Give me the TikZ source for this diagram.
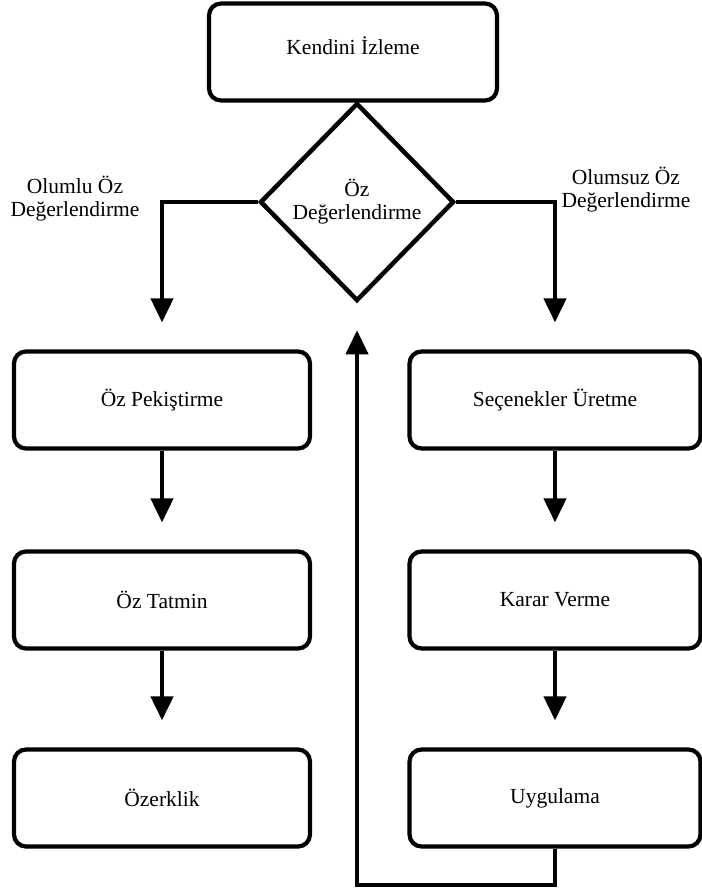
\documentclass[tikz,border=0pt]{standalone}
\usepackage{fontspec}
\setmainfont{Liberation Serif}
\usetikzlibrary{shapes.geometric,arrows.meta}
\begin{document}
\begin{tikzpicture}[x=1pt, y=-1pt,
    txt/.style={font=\fontsize{21.5}{23}\selectfont},
    box/.style={txt, draw, line width=4.2pt, rounded corners=12pt,
      minimum height=97pt},
    decision/.style={txt, draw, diamond, line width=4.5pt, align=center,
      minimum width=194pt, minimum height=198pt, inner sep=0pt},
    flow/.style={line width=4.2pt, -{Triangle[length=24pt,width=22pt]},
      shorten >=27pt},
    branch/.style={txt, align=center}]

      \useasboundingbox (0,0) rectangle (701,890);

      \node[box, minimum width=288pt, text depth=12pt] (izle) at (353,52) {Kendini İzleme};
      \node[decision] (dia) at (357,202) {Öz\\Değerlendirme};

      \node[box, minimum width=296pt] (pek) at (162,400) {Öz Pekiştirme};
      \node[box, minimum width=296pt] (tat) at (162,600) {Öz Tatmin};
      \node[box, minimum width=296pt] (oze) at (162,798) {Özerklik};

      \node[box, minimum width=291pt] (sec) at (555,400) {Seçenekler Üretme};
      \node[box, minimum width=291pt] (kar) at (555,600) {Karar Verme};
      \node[box, minimum width=291pt] (uyg) at (555,798) {Uygulama};

      \node[branch] (olumlu) at (75,199) {Olumlu Öz\\Değerlendirme};
      \node[branch] (olumsuz) at (626,190) {Olumsuz Öz\\Değerlendirme};

      \coordinate (back) at (357,885);

      \draw[flow] (dia.west) -| (pek.north);
      \draw[flow] (dia.east) -| (sec.north);
      \draw[flow] (pek) -- (tat);
      \draw[flow] (tat) -- (oze);
      \draw[flow] (sec) -- (kar);
      \draw[flow] (kar) -- (uyg);
      \draw[flow] (uyg.south) |- (back) -- (dia.south);
    \end{tikzpicture}
\end{document}
